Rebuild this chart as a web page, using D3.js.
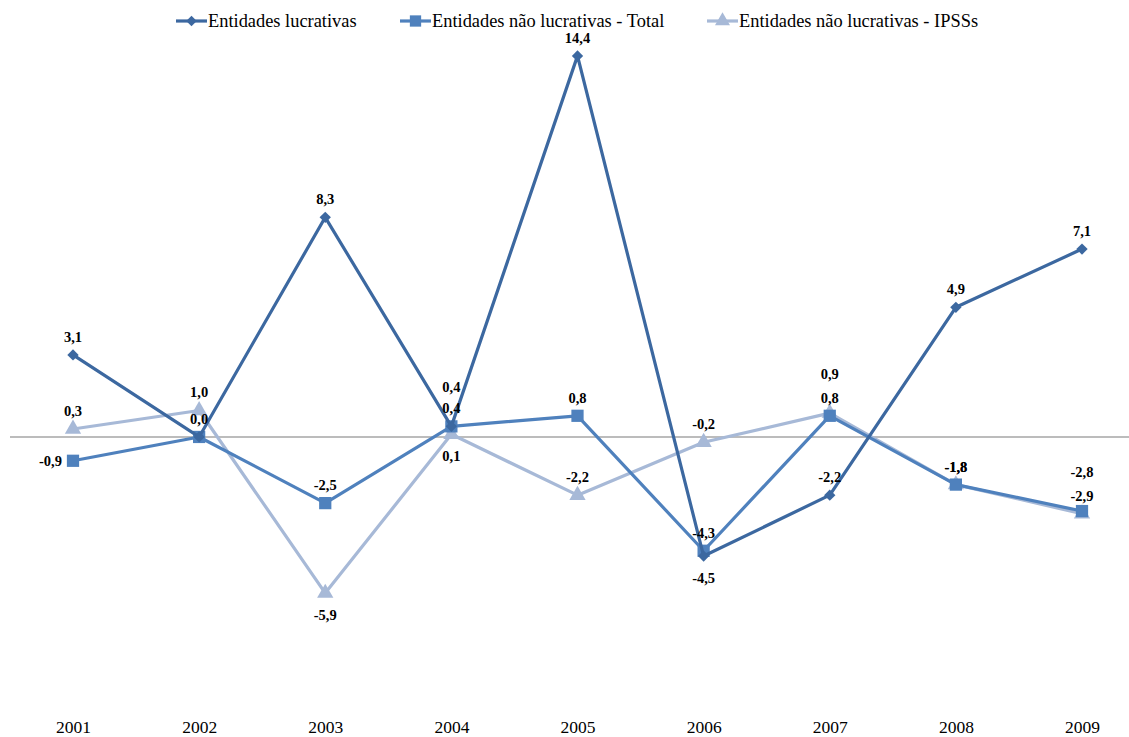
<!DOCTYPE html>
<html>
<head>
<meta charset="utf-8">
<script src="https://cdn.jsdelivr.net/npm/d3@7"></script>
<style>
  html, body { margin: 0; padding: 0; background: #fff; }
  svg { display: block; font-family: "Liberation Serif", "Times New Roman", serif; }
</style>
</head>
<body>
<svg id="chart" width="1129" height="737"></svg>
<script>
// Annual variation (%) by type of entity
const years = ["2001", "2002", "2003", "2004", "2005", "2006", "2007", "2008", "2009"];
const lucrativas = [3.1, 0.0, 8.3, 0.4, 14.4, -4.5, -2.2, 4.9, 7.1];
const naoLucrTotal = [-0.9, 0.0, -2.5, 0.4, 0.8, -4.3, 0.8, -1.8, -2.8];
const naoLucrIPSS = [0.3, 1.0, -5.9, 0.1, -2.2, -0.2, 0.9, -1.8, -2.9];
const seriesNames = [
  "Entidades lucrativas",
  "Entidades não lucrativas - Total",
  "Entidades não lucrativas - IPSSs"
];

// Where each value label sits relative to its point
const placeLucr = ["up", "up", "up", "up2", "up", "down", "up", "up", "up"];
const placeTotal = ["left", "none", "up", "up", "up", "up", "up", "up", "up2"];
const placeIPSS = ["up", "up", "down", "down", "up", "up", "up2", "up", "up"];

const FONT = "Liberation Serif, Times New Roman, serif";
const fmt = v => v.toFixed(1).replace(".", ",");

const svg = d3.select("#chart");
const W = 1129;

const x = d3.scalePoint().domain(years).range([73, 1082]);
const y = d3.scaleLinear().domain([-10, 15]).range([701.6, 40]);

// Marker shapes: diamond is a square turned by 45 degrees
const series = [
  { name: seriesNames[0], values: lucrativas, place: placeLucr, color: "#3C68A0", marker: d3.symbolSquare, msize: 64, rot: 45 },
  { name: seriesNames[1], values: naoLucrTotal, place: placeTotal, color: "#4F81BD", marker: d3.symbolSquare, msize: 150, rot: 0 },
  { name: seriesNames[2], values: naoLucrIPSS, place: placeIPSS, color: "#A7B9D7", marker: d3.symbolTriangle, msize: 115, rot: 0 }
];

// Zero line
svg.append("line")
  .attr("x1", 10).attr("x2", W)
  .attr("y1", y(0)).attr("y2", y(0))
  .attr("stroke", "#A6A6A6").attr("stroke-width", 1.5);

// Category labels along the bottom
const xAxis = d3.axisBottom(x).tickSize(0).tickPadding(0);
const gx = svg.append("g").attr("transform", "translate(0,727)").call(xAxis)
  .attr("font-family", FONT);
gx.select(".domain").remove();
gx.selectAll("text")
  .attr("font-family", FONT)
  .attr("font-size", 17.5)
  .attr("fill", "#000")
  .attr("dy", "0.32em");

const line = d3.line().x((d, i) => x(years[i])).y(d => y(d));

// Draw series in reverse so the first series is on top
[...series].reverse().forEach(s => {
  const g = svg.append("g");
  g.append("path")
    .datum(s.values)
    .attr("d", line)
    .attr("fill", "none")
    .attr("stroke", s.color)
    .attr("stroke-width", 3.2)
    .attr("stroke-linejoin", "round");
  g.selectAll("path.mk")
    .data(s.values)
    .join("path")
    .attr("class", "mk")
    .attr("d", d3.symbol().type(s.marker).size(s.msize))
    .attr("transform", (d, i) => `translate(${x(years[i])},${y(d)}) rotate(${s.rot})`)
    .attr("fill", s.color);
});

// Value labels
series.forEach(s => {
  svg.append("g").selectAll("text")
    .data(s.values.map((v, i) => ({ v, i, p: s.place[i] })).filter(d => d.p !== "none"))
    .join("text")
    .attr("x", d => x(years[d.i]) + (d.p === "left" ? -11 : 0))
    .attr("y", d => {
      const py = y(d.v);
      if (d.p === "up") return py - 13;
      if (d.p === "up2") return py - 34;
      if (d.p === "down") return py + 27;
      return py + 5;
    })
    .attr("text-anchor", d => d.p === "left" ? "end" : "middle")
    .attr("font-family", FONT)
    .attr("font-size", 14.5)
    .attr("font-weight", "bold")
    .attr("fill", "#000")
    .text(d => fmt(d.v));
});

// Legend
const legendItems = [
  { s: series[0], x: 176 },
  { s: series[1], x: 400 },
  { s: series[2], x: 707 }
];
const lg = svg.append("g").attr("transform", "translate(0,21)");
legendItems.forEach(({ s, x: lx }) => {
  lg.append("line")
    .attr("x1", lx).attr("x2", lx + 31)
    .attr("y1", 0).attr("y2", 0)
    .attr("stroke", s.color).attr("stroke-width", 3.2);
  lg.append("path")
    .attr("d", d3.symbol().type(s.marker).size(s.msize * 0.85)())
    .attr("transform", `translate(${lx + 15.5},0) rotate(${s.rot})`)
    .attr("fill", s.color);
  lg.append("text")
    .attr("x", lx + 32).attr("y", 5.5)
    .attr("font-family", FONT)
    .attr("font-size", 18.4)
    .attr("fill", "#000")
    .text(s.name);
});
</script>
</body>
</html>
